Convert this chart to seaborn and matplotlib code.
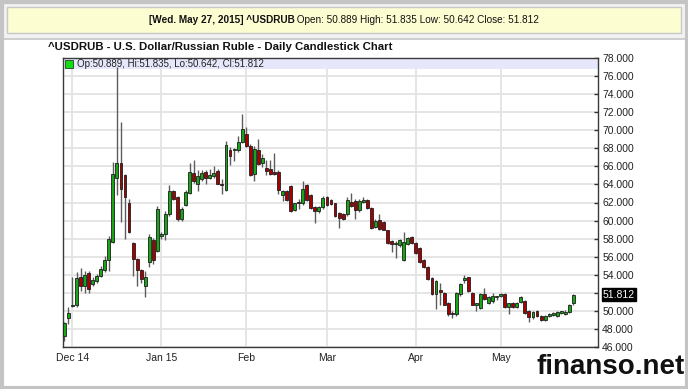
import numpy as np
import pandas as pd
import matplotlib
matplotlib.use('Agg')
import matplotlib.pyplot as plt
import matplotlib.transforms as mtransforms
from matplotlib import font_manager
from matplotlib.patches import Rectangle
import seaborn as sns

# ------------------------------------------------------------
# Data: USD/RUB daily candles, 27 Nov 2014 - 27 May 2015
# ------------------------------------------------------------
opens = [47.2, 49.2,
         50.5, 50.7, 53.8, 52.7, 54.2, 53.0, 53.3, 53.9, 54.5, 55.6, 57.6,
         64.7, 66.4, 65.0, 62.0, 57.5, 55.7, 54.5, 52.7, 55.4, 57.8, 56.6,
         58.3, 58.5, 60.7, 63.3, 62.6, 60.2, 61.7, 63.0, 65.3, 64.0, 64.6,
         65.4, 64.7, 64.9, 65.5, 64.1, 63.4, 67.8, 67.8, 67.8, 68.7,
         69.6, 68.3, 65.2, 67.8, 66.4, 65.8, 65.7, 65.4, 65.4, 62.8, 63.3,
         63.8, 61.2, 62.0, 61.9, 63.9, 62.8, 61.5, 61.1, 61.5,
         62.6, 62.3, 61.9, 60.8, 60.7, 60.7, 62.0, 62.2, 61.2, 62.1, 62.3,
         61.4, 59.3, 60.1, 59.8, 58.9, 57.7, 57.4, 57.3, 55.6, 57.4, 58.2,
         57.5, 57.0, 55.6, 54.9, 53.6, 51.9, 52.3, 52.0, 50.9, 49.7, 49.6,
         51.9, 53.4, 53.7, 52.0, 50.7, 50.3, 51.9, 50.9, 51.1, 51.5,
         51.6, 51.9, 50.4, 50.9, 50.4, 51.0, 51.1, 50.0, 49.3, 50.0, 49.4,
         49.0, 49.4, 49.5, 49.4, 49.8, 49.6, 49.9, 50.889]
highs = [48.8, 50.4,
         53.8, 54.3, 54.8, 54.4, 54.4, 53.7, 54.1, 55.0, 56.1, 58.3, 66.5,
         77.0, 70.9, 65.2, 62.4, 57.6, 55.9, 54.6, 54.4, 58.5, 58.1, 61.6,
         58.7, 61.1, 63.9, 63.4, 62.7, 61.5, 63.4, 66.4, 66.7, 65.6, 65.6,
         65.6, 65.7, 66.0, 65.7, 64.6, 68.8, 68.1, 68.0, 69.4, 71.8,
         70.4, 68.5, 68.3, 69.0, 67.4, 66.7, 66.7, 67.5, 65.6, 63.4, 63.4,
         63.9, 62.0, 62.4, 64.4, 64.0, 62.9, 61.6, 61.6, 62.7,
         62.7, 62.4, 62.0, 60.9, 60.8, 62.6, 63.0, 62.4, 62.4, 62.6, 62.4,
         61.5, 60.2, 60.7, 59.9, 59.0, 57.8, 57.7, 58.0, 58.7, 58.2, 58.3,
         57.6, 57.1, 55.7, 55.0, 53.7, 53.4, 53.1, 52.1, 51.0, 50.0, 52.1,
         53.1, 54.0, 53.8, 52.1, 50.9, 52.0, 52.5, 51.6, 52.0, 51.7,
         52.0, 52.0, 50.9, 51.0, 51.0, 51.6, 51.2, 50.1, 50.0, 50.1, 49.5,
         49.5, 49.8, 49.9, 50.0, 50.0, 50.1, 50.8, 51.835]
lows = [46.7, 48.5,
        50.4, 50.4, 52.2, 52.0, 52.0, 52.8, 53.1, 53.7, 54.3, 54.4, 57.5,
        62.8, 59.8, 58.0, 58.6, 53.9, 52.7, 53.1, 51.5, 54.9, 55.2, 56.5,
        58.0, 57.8, 60.5, 62.3, 59.9, 60.0, 61.6, 62.9, 64.2, 63.3, 64.4,
        64.1, 64.6, 64.7, 64.0, 62.9, 63.3, 66.2, 66.6, 67.6, 68.6,
        68.2, 64.9, 64.4, 66.1, 65.9, 65.1, 65.0, 65.0, 62.9, 62.2, 62.2,
        61.0, 61.1, 61.3, 61.7, 62.2, 61.3, 59.7, 60.8, 61.3,
        61.6, 61.7, 60.4, 59.2, 60.1, 60.5, 61.5, 60.2, 61.0, 62.0, 61.3,
        59.1, 59.2, 58.9, 58.9, 57.4, 56.5, 55.9, 57.1, 55.5, 57.3, 57.4,
        56.3, 55.3, 54.8, 53.4, 51.8, 50.2, 50.7, 50.6, 49.4, 49.2, 49.4,
        51.7, 53.1, 52.1, 50.6, 50.0, 50.2, 51.2, 50.8, 50.9, 51.2,
        51.5, 50.3, 49.6, 50.3, 50.3, 50.9, 49.7, 48.8, 49.1, 49.3, 48.9,
        48.9, 49.3, 49.4, 49.3, 49.6, 49.5, 49.8, 50.642]
closes = [48.7, 49.8,
          50.7, 53.6, 52.7, 54.0, 52.4, 53.4, 53.9, 54.6, 55.6, 58.0, 65.2,
          66.4, 63.5, 62.6, 58.7, 55.7, 54.5, 53.5, 53.7, 58.2, 55.6, 61.3,
          58.5, 60.7, 63.3, 62.4, 60.2, 61.3, 63.2, 65.4, 64.4, 64.9, 65.3,
          64.7, 65.1, 65.3, 64.1, 63.9, 68.4, 67.2, 67.9, 68.7, 70.1,
          68.3, 65.1, 67.9, 66.3, 66.9, 65.5, 65.2, 65.2, 63.4, 63.3, 62.3,
          61.1, 61.9, 61.9, 63.5, 62.3, 61.4, 61.1, 61.5, 62.5,
          61.7, 61.8, 60.5, 60.3, 60.2, 62.3, 61.6, 61.2, 62.2, 62.2, 61.4,
          59.2, 60.0, 59.1, 59.0, 57.5, 57.4, 57.4, 57.8, 57.6, 58.1, 57.5,
          56.4, 55.4, 54.9, 53.5, 51.9, 53.3, 52.1, 50.7, 49.6, 49.6, 52.0,
          53.0, 53.6, 52.2, 50.7, 50.8, 51.9, 51.3, 51.5, 51.7, 51.5,
          51.9, 50.4, 50.9, 50.4, 50.9, 51.5, 49.8, 49.3, 49.9, 49.4, 49.0,
          49.4, 49.7, 49.8, 49.9, 49.8, 49.9, 50.7, 51.812]
holidays = ["2014-12-25", "2015-01-01", "2015-04-03"]
month_labels = ["Dec 14", "Jan 15", "Feb", "Mar", "Apr", "May"]
price_ticks = list(range(46, 80, 2))

header_bold = "[Wed. May 27, 2015] ^USDRUB"
header_rest = " Open: 50.889 High: 51.835 Low: 50.642 Close: 51.812"
chart_title = "^USDRUB - U.S. Dollar/Russian Ruble - Daily Candlestick Chart"
legend_text = "Op:50.889, Hi:51.835, Lo:50.642, Cl:51.812"

# ------------------------------------------------------------
# Frame
# ------------------------------------------------------------
dates = pd.bdate_range("2014-11-27", "2015-05-27").drop(pd.to_datetime(holidays))
df = pd.DataFrame({"date": dates, "open": opens, "high": highs,
                   "low": lows, "close": closes})
df["idx"] = np.arange(len(df))
df["up"] = df["close"] >= df["open"]
month_pos = df.groupby(df["date"].dt.to_period("M"))["idx"].min().values[1:]

sns.set_theme(style="whitegrid")
names = {f.name for f in font_manager.fontManager.ttflist}
narrow = "Liberation Sans Narrow" if "Liberation Sans Narrow" in names else "Liberation Sans"
plt.rcParams['font.family'] = ['Liberation Sans', 'DejaVu Sans']

W, H = 688, 389
fig = plt.figure(figsize=(W / 100, H / 100), dpi=100, facecolor="white")


def px_rect(x, y, w, h, **kw):
    fig.add_artist(Rectangle((x / W, 1 - (y + h) / H), w / W, h / H,
                             transform=fig.transFigure, **kw))


# outer grey frame and header strip
px_rect(0, 0, W, 39, facecolor="#f2f2f2", edgecolor="none", zorder=0)
px_rect(1.5, 1.5, W - 3, H - 3, facecolor="none", edgecolor="#c4c4c4", lw=3, zorder=5)
px_rect(0, 38, W, 1.5, facecolor="#cfcfcf", edgecolor="none", zorder=1)
px_rect(7, 7, W - 14, 26, facecolor="#fdfdd2", edgecolor="#c8c8c8", lw=1, zorder=2)

ax = fig.add_axes([63 / W, 1 - 347 / H, 535 / W, 289 / H])

# ------------------------------------------------------------
# Candles
# ------------------------------------------------------------
ax.vlines(df["idx"], df["low"], df["high"], color="#5c5c5c", lw=1.0, zorder=2)
body_low = df[["open", "close"]].min(axis=1)
body_h = (df["close"] - df["open"]).abs().clip(lower=0.15)
body_col = np.where(df["up"], "#16a616", "#a80000")
ax.bar(df["idx"], body_h, bottom=body_low, width=0.72, color=body_col,
       edgecolor="#1e1e1e", linewidth=0.6, zorder=3)

ax.set_xlim(-0.35, 132.1)
ax.set_ylim(46, 78)
ax.set_axisbelow(True)
ax.grid(True, color="#e3e3e3", lw=1.3)

ax.set_xticks(month_pos)
ax.set_xticklabels(month_labels, fontsize=7.5, color="#222222")
ax.set_yticks(price_ticks)
ax.set_yticklabels([f"{v:.3f}" for v in price_ticks], fontsize=7.5, color="#222222")
ax.yaxis.tick_right()
ax.tick_params(axis="y", direction="in", length=3, width=1, color="#333333", pad=3)
ax.tick_params(axis="x", direction="out", length=3, width=1, color="#333333", pad=1)
for s in ax.spines.values():
    s.set_color("#3a3a3a")
    s.set_linewidth(1.0)

# legend band inside the plot
ax.axhspan(76.78, 78, color="#e7e7fb", zorder=1, lw=0)
ax.add_patch(Rectangle((0.004, 0.966), 0.015, 0.026, transform=ax.transAxes,
                       facecolor="#11dd11", edgecolor="#224422", lw=0.6, zorder=4))
ax.text(0.026, 0.979, legend_text, transform=ax.transAxes, fontsize=7,
        va="center", ha="left", color="#222222", zorder=4)

# last price marker on the right axis
trans = mtransforms.blended_transform_factory(ax.transAxes, ax.transData)
ax.text(1.0 + 5 / 535, closes[-1], f"{closes[-1]:.3f}", transform=trans,
        fontsize=7.5, color="white", va="center", ha="left",
        bbox=dict(facecolor="black", edgecolor="black", pad=0.8))

# ------------------------------------------------------------
# Titles
# ------------------------------------------------------------
fig.text(48 / W, 1 - 47 / H, chart_title, fontsize=8.2, fontweight="bold",
         va="center", ha="left", color="#111111")

t1 = fig.text(0, 1 - 20 / H, header_bold, fontsize=7.2, fontweight="bold",
              family=narrow, va="center", ha="left", color="#111111", zorder=3)
t2 = fig.text(0, 1 - 20 / H, header_rest, fontsize=7.2,
              family=narrow, va="center", ha="left", color="#111111", zorder=3)
fig.canvas.draw()
r = fig.canvas.get_renderer()
w1 = t1.get_window_extent(r).width
w2 = t2.get_window_extent(r).width
x0 = (W / 2 - (w1 + w2) / 2)
t1.set_x(x0 / W)
t2.set_x((x0 + w1) / W)

fig.text(685 / W, 1 - 367 / H, "finanso.net", fontsize=20, fontweight="bold",
         va="center", ha="right", color="#111111", zorder=6)

fig.savefig("out.png", dpi=100, facecolor=fig.get_facecolor())
